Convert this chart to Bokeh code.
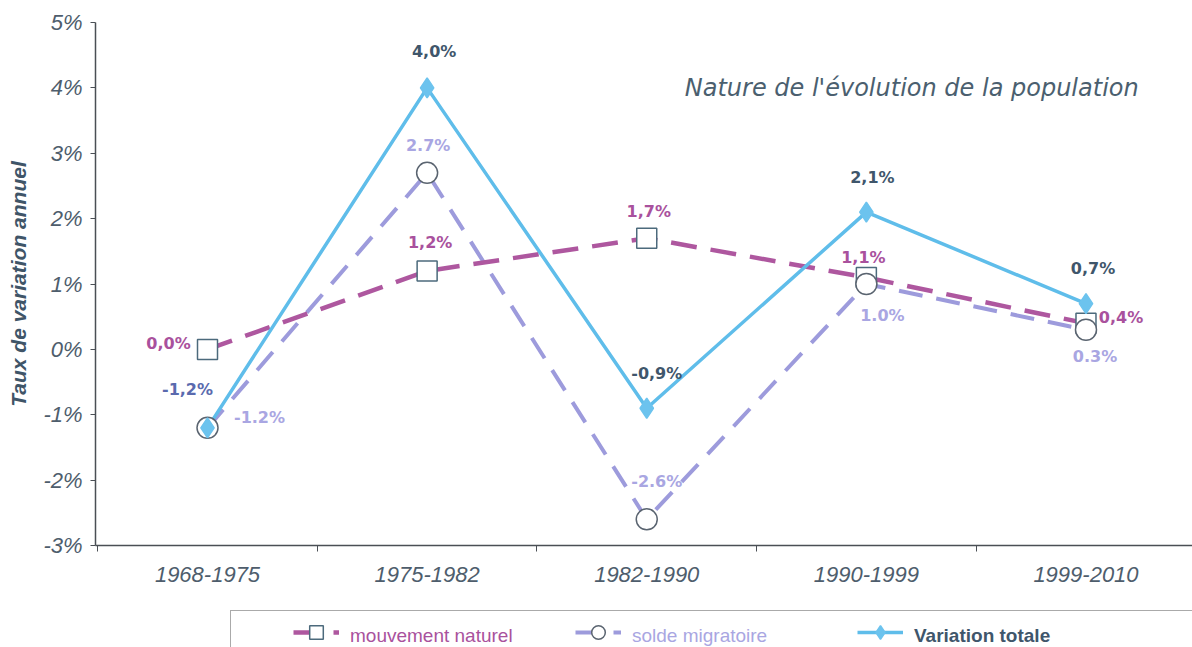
from bokeh.plotting import figure
from bokeh.layouts import column
from bokeh.models import Range1d, FixedTicker, Legend, LegendItem, Label, ColumnDataSource
from bokeh.core.properties import value
from bokeh.embed import file_html
from bokeh.resources import INLINE

# ---- data ----
periods = ["1968-1975", "1975-1982", "1982-1990", "1990-1999", "1999-2010"]
naturel = [0.0, 1.2, 1.7, 1.1, 0.4]
migratoire = [-1.2, 2.7, -2.6, 1.0, 0.3]
totale = [-1.2, 4.0, -0.9, 2.1, 0.7]
y_ticks = [-3, -2, -1, 0, 1, 2, 3, 4, 5]
y_tick_labels = ["-3%", "-2%", "-1%", "0%", "1%", "2%", "3%", "4%", "5%"]
series_names = ["mouvement naturel", "solde migratoire", "Variation totale"]

naturel_labels = [f"{v:.1f}".replace(".", ",") + "%" for v in naturel]
migratoire_labels = [f"{v:.1f}%" for v in migratoire]
totale_labels = [f"{v:.1f}".replace(".", ",") + "%" for v in totale]

# ---- style ----
C_NAT = "#AE579F"
C_MIG = "#9D9BDC"
C_TOT = "#5FBDEA"
C_NAT_TXT = "#A9519D"
C_MIG_TXT = "#A9A6E2"
C_TOT_TXT = "#3F566B"
AXIS_TXT = "#4E5D6C"
FONT = "Liberation Sans"

NAT_LINE = dict(line_color=C_NAT, line_width=4.5, line_dash="26 14")
MIG_LINE = dict(line_color=C_MIG, line_width=4, line_dash="24 14")
TOT_LINE = dict(line_color=C_TOT, line_width=3.5)
NAT_PTS = dict(marker="square", size=20, fill_color="white", line_color="#4C6A7C", line_width=1.5)
MIG_PTS = dict(marker="circle", size=21, fill_color="white", line_color="#5A6470", line_width=1.5)
TOT_PTS = dict(marker="diamond", size=20, fill_color="#6CC3EE", line_color="#6CC3EE", line_width=1.5)

x = list(range(len(periods)))

p = figure(width=1192, height=610,
           x_range=Range1d(-0.51, 4.485), y_range=Range1d(-3, 5),
           output_backend="svg", toolbar_location=None,
           min_border_left=95, min_border_right=0,
           min_border_top=22, min_border_bottom=65)
p.outline_line_color = None
p.xgrid.visible = False
p.ygrid.visible = False

# y axis
p.yaxis.ticker = FixedTicker(ticks=y_ticks, minor_ticks=[])
p.yaxis.major_label_overrides = {t: l for t, l in zip(y_ticks, y_tick_labels)}
p.yaxis.axis_line_color = "#4a4f55"
p.yaxis.axis_line_width = 1.5
p.yaxis.major_tick_line_color = "#4a4f55"
p.yaxis.major_tick_out = 5
p.yaxis.major_tick_in = 0
p.yaxis.major_label_standoff = 8
p.yaxis.major_label_text_font = FONT
p.yaxis.major_label_text_font_style = "italic"
p.yaxis.major_label_text_font_size = "22px"
p.yaxis.major_label_text_color = AXIS_TXT
p.yaxis.axis_label = "Taux de variation annuel"
p.yaxis.axis_label_text_font = FONT
p.yaxis.axis_label_text_font_style = "bold italic"
p.yaxis.axis_label_text_font_size = "21px"
p.yaxis.axis_label_text_color = "#3F5568"
p.yaxis.axis_label_standoff = 10

# x axis
p.xaxis.ticker = FixedTicker(ticks=x, minor_ticks=[i - 0.5 for i in x])
p.xaxis.major_label_overrides = {i: s for i, s in zip(x, periods)}
p.xaxis.axis_line_color = "#4a4f55"
p.xaxis.axis_line_width = 1.5
p.xaxis.major_tick_line_color = None
p.xaxis.major_tick_out = 0
p.xaxis.major_tick_in = 0
p.xaxis.minor_tick_line_color = "#4a4f55"
p.xaxis.minor_tick_out = 6
p.xaxis.minor_tick_in = 0
p.xaxis.major_label_standoff = 15
p.xaxis.major_label_text_font = FONT
p.xaxis.major_label_text_font_style = "italic"
p.xaxis.major_label_text_font_size = "22px"
p.xaxis.major_label_text_color = AXIS_TXT

# ---- series ----
p.line(x, migratoire, **MIG_LINE)
p.line(x, naturel, **NAT_LINE)
p.line(x, totale, **TOT_LINE)
p.scatter(x, naturel, **NAT_PTS)
p.scatter(x, migratoire, **MIG_PTS)
p.scatter(x, totale, **TOT_PTS)

# ---- value labels ----
nat_dx = [-39, 3, 2, -3, 35]
nat_dy = [-6, -28, -27, -20, -6]
mig_dx = [52, 1, 10, 16, 9]
mig_dy = [-10, -27, -38, 31, 27]
tot_dx = [-20, 7, 10, 6, 7]
tot_dy = [-38, -36, -35, -35, -35]
tot_colors = ["#5A6AAE"] + [C_TOT_TXT] * 4

for vals, labels, dx, dy, col in [
    (naturel, naturel_labels, nat_dx, nat_dy, [C_NAT_TXT] * 5),
    (migratoire, migratoire_labels, mig_dx, mig_dy, [C_MIG_TXT] * 5),
    (totale, totale_labels, tot_dx, tot_dy, tot_colors),
]:
    src = ColumnDataSource(dict(x=x, y=vals, t=labels, dx=dx, dy=dy, c=col))
    p.text(x="x", y="y", text="t", x_offset="dx", y_offset="dy", text_color="c",
           source=src, text_font=value("DejaVu Sans"), text_font_style="bold",
           text_font_size="16px", text_align="center", text_baseline="middle")

# ---- chart title ----
p.add_layout(Label(x=4.24, y=4.0, text="Nature de l'évolution de la population",
                   text_font="DejaVu Sans", text_font_style="italic",
                   text_font_size="24px", text_color="#4B5F6F",
                   text_align="right", text_baseline="middle"))

# ---- legend strip (separate figure so that the box can be cut at the edges) ----
# its y range lies far above the data, so the series drawn here stay hidden and
# only serve as legend glyphs
lf = figure(width=1192, height=37, x_range=Range1d(0, 4), y_range=Range1d(100, 101),
            output_backend="svg", toolbar_location=None,
            x_axis_location=None, y_axis_location=None,
            min_border=0, min_border_left=0, min_border_right=0,
            min_border_top=0, min_border_bottom=0)
lf.outline_line_color = None
lf.xgrid.visible = False
lf.ygrid.visible = False

ln_nat = lf.line(x, naturel, **NAT_LINE)
lp_nat = lf.scatter(x, naturel, **NAT_PTS)
ln_mig = lf.line(x, migratoire, **MIG_LINE)
lp_mig = lf.scatter(x, migratoire, **MIG_PTS)
ln_tot = lf.line(x, totale, **TOT_LINE)
lp_tot = lf.scatter(x, totale, **TOT_PTS)
dummy = lf.line(x, totale, line_alpha=0)

LEG_X = 135
PITCH = 46 + 8 + 220 + 8
# base legend: frame + glyphs (its label slots are blank, of fixed width)
base = Legend(items=[
    LegendItem(label=" ", renderers=[ln_nat, lp_nat]),
    LegendItem(label=" ", renderers=[ln_mig, lp_mig]),
    LegendItem(label=" ", renderers=[ln_tot, lp_tot]),
    LegendItem(label=" ", renderers=[dummy]),
], location=(LEG_X, -7), orientation="horizontal", padding=4, spacing=8,
    glyph_width=46, glyph_height=34, label_standoff=8, label_width=220,
    label_height=34, label_text_font=FONT, label_text_font_size="19px",
    margin=0,
    border_line_color="#555555", border_line_width=1.5,
    background_fill_color="white", background_fill_alpha=1,
    title=" ", title_location="left", title_standoff=43,
    title_text_font_size="13px")
lf.add_layout(base)

# coloured legend texts drawn in the blank label slots
for i, (lab, col, style) in enumerate(zip(series_names,
                                          [C_NAT_TXT, C_MIG_TXT, C_TOT_TXT],
                                          ["normal", "normal", "bold"])):
    lg = Legend(items=[LegendItem(label=lab, renderers=[dummy])],
                location=(LEG_X + 66 + i * PITCH, -1), orientation="horizontal",
                padding=10, spacing=8, glyph_width=46, glyph_height=24,
                label_standoff=8, label_width=220, label_height=24,
                label_text_font=FONT, label_text_font_size="19px", margin=0,
                label_text_color=col, label_text_font_style=style,
                border_line_color=None, background_fill_alpha=0)
    lf.add_layout(lg)

layout = column(p, lf, spacing=0)
open("out.html", "w").write(file_html(layout, INLINE))
